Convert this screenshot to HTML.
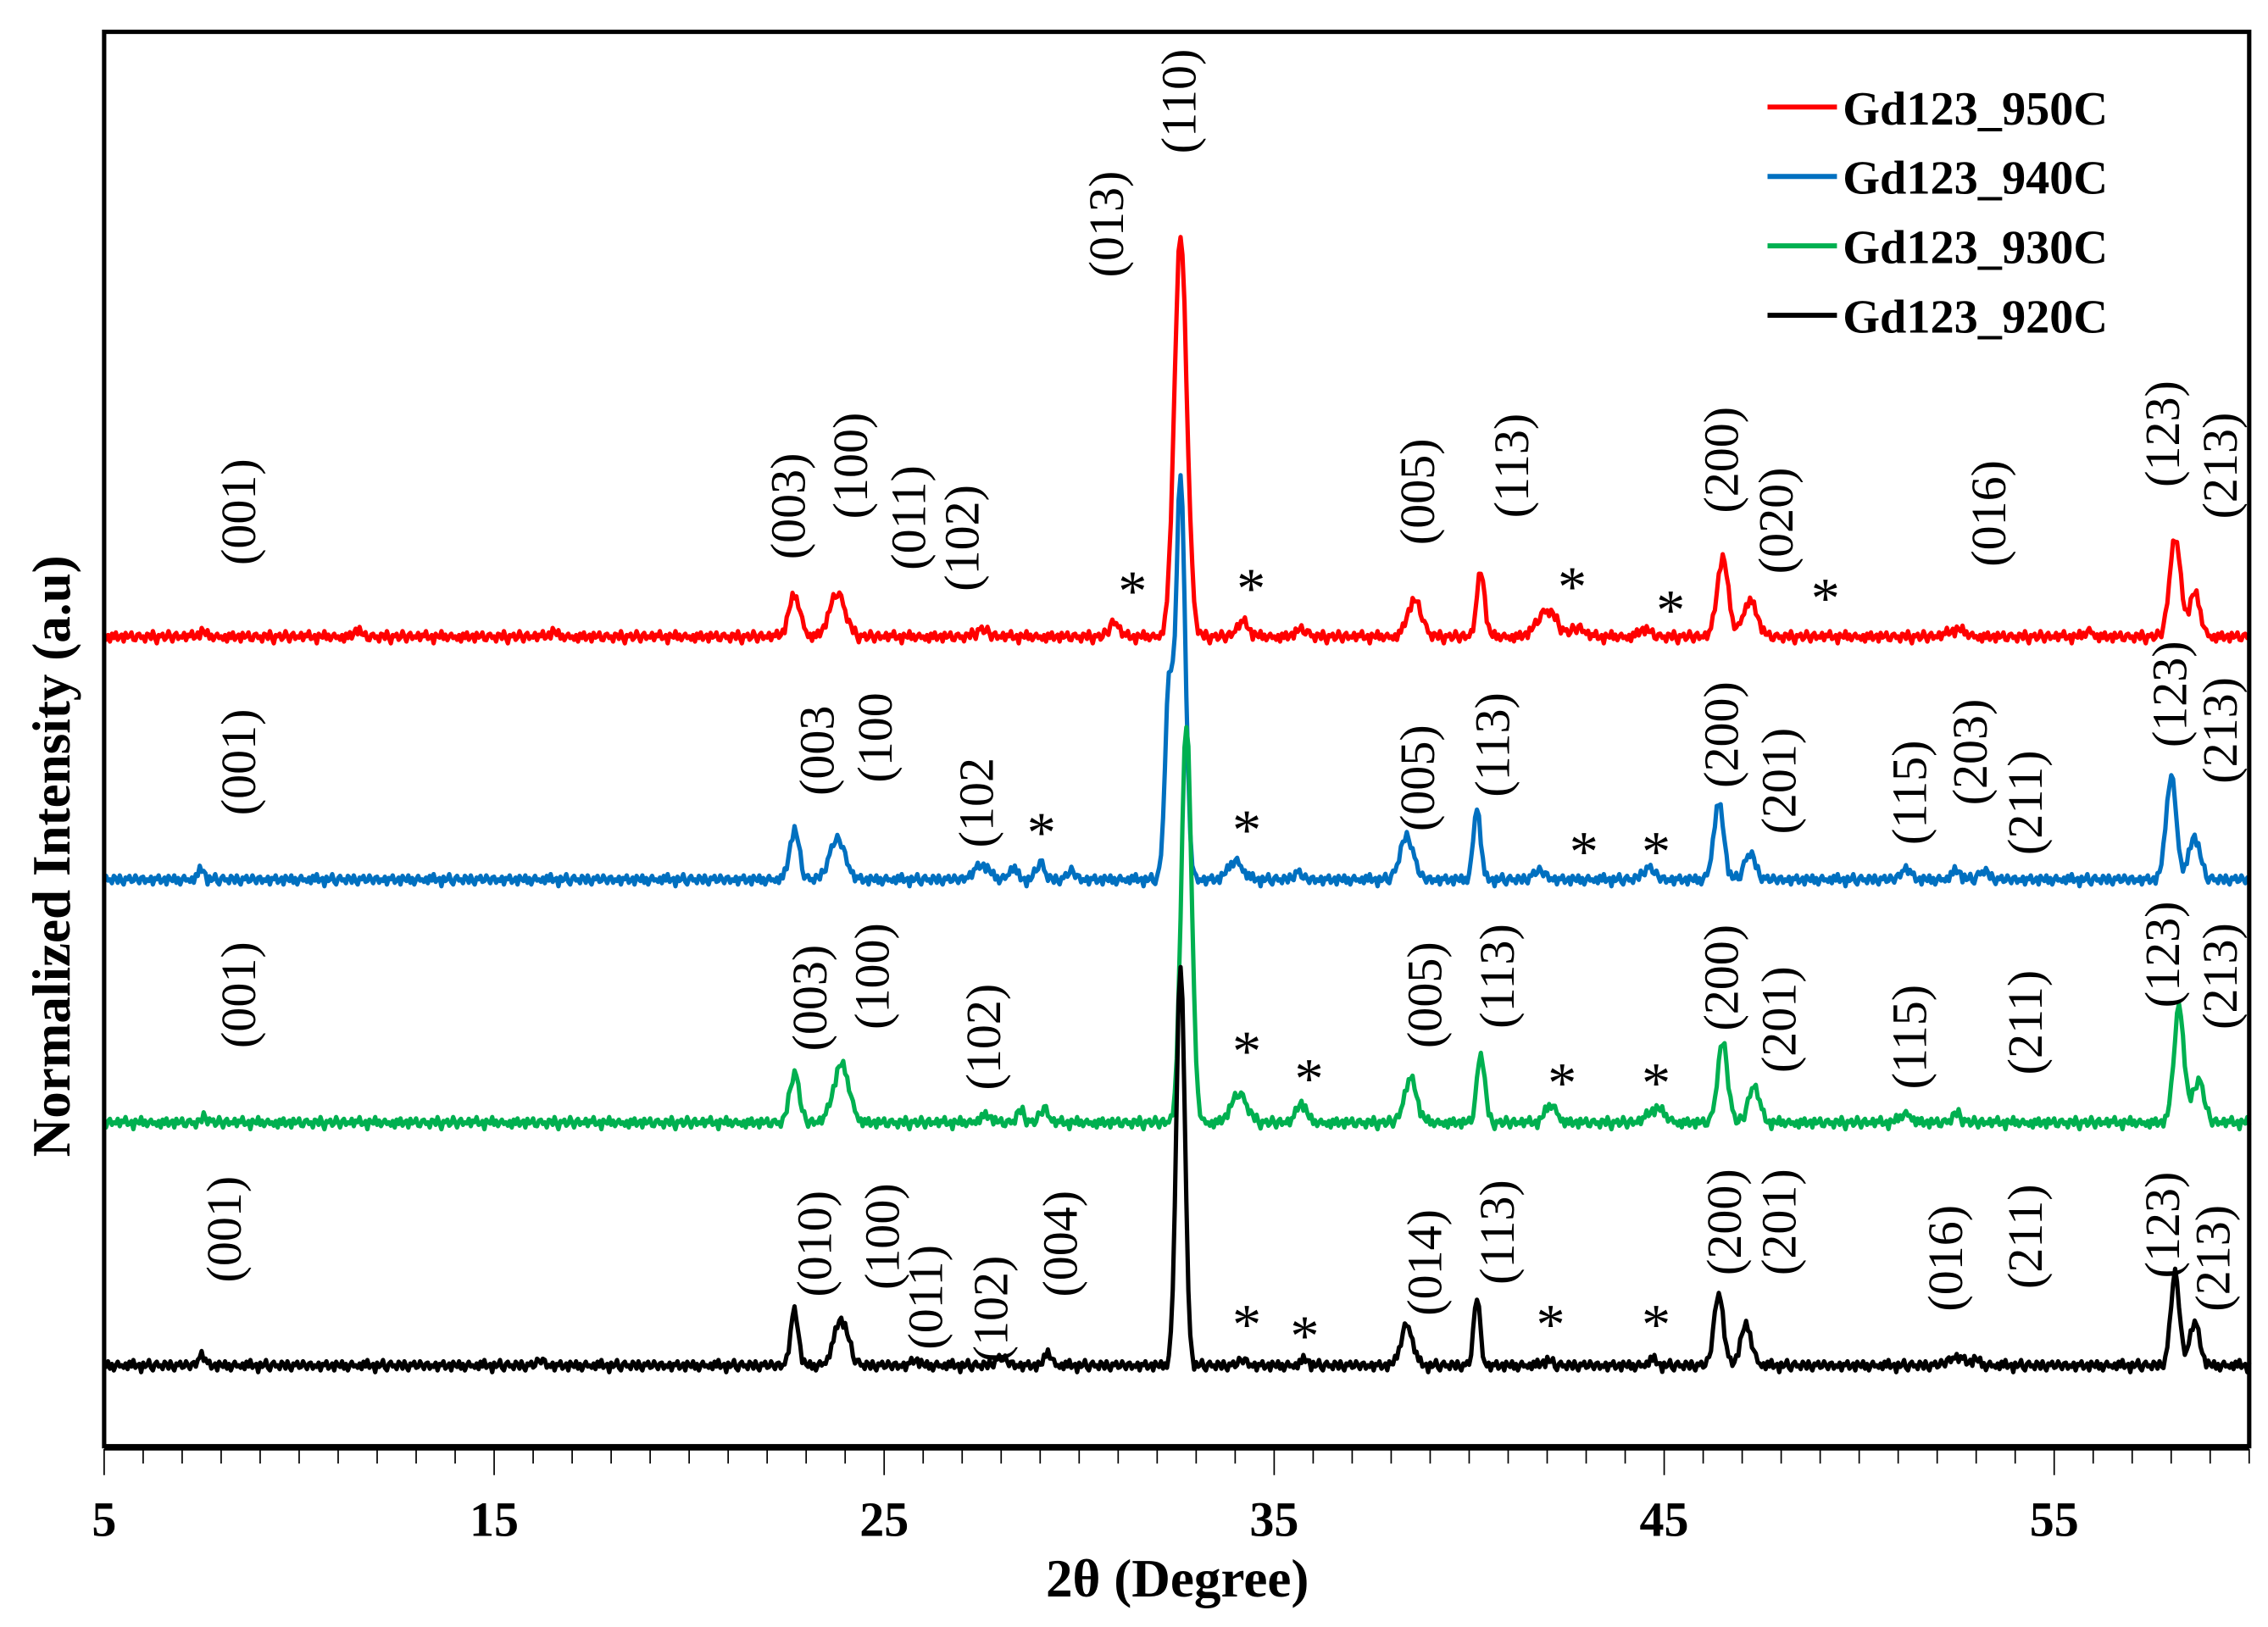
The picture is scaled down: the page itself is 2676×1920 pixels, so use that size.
<!DOCTYPE html>
<html><head><meta charset="utf-8"><style>
html,body{margin:0;padding:0;background:#fff}
svg{display:block}
text{font-family:"Liberation Serif",serif}
</style></head><body>
<svg id="chart" width="2676" height="1920" viewBox="0 0 1568 1125" xmlns="http://www.w3.org/2000/svg">
<rect x="0" y="0" width="1568" height="1125" fill="#fff"/>
<g id="plot"></g>
<g id="axes"></g>
<g id="labels"></g>
<g id="legend"></g>
</svg>
<script>
// ---- data ----
const xTicks = [5, 15, 25, 35, 45, 55];
const seriesNames = ["Gd123_950C", "Gd123_940C", "Gd123_930C", "Gd123_920C"];
const seriesColors = ["#ff0000", "#0070c0", "#00b050", "#000000"];
const seriesOffsets = [3, 2, 1, 0];
// peaks: [2theta, intensity, width]
const peaks950 = [[7.5,4,0.08],[11.5,5,0.08],[16.5,4,0.08],[22.7,28,0.15],[23.8,30,0.2],[27.5,5,0.15],[30.9,10,0.12],[32.6,277,0.16],[34.2,10,0.15],[35.7,5,0.15],[38.6,25,0.18],[40.3,45,0.1],[42.0,18,0.25],[42.8,6,0.15],[44.5,5,0.15],[46.5,55,0.14],[47.2,25,0.18],[52.5,5,0.2],[55.9,4,0.1],[58.1,68,0.14],[58.6,30,0.14]];
const peaks940 = [[7.5,7,0.08],[22.7,35,0.12],[23.8,28,0.2],[27.5,10,0.2],[28.3,8,0.1],[29.0,12,0.1],[29.8,6,0.1],[32.3,130,0.1],[32.6,278,0.12],[34.0,13,0.18],[35.6,5,0.1],[38.4,30,0.17],[40.2,50,0.09],[41.8,6,0.15],[44.6,8,0.15],[46.4,52,0.13],[47.2,18,0.14],[51.2,8,0.12],[52.5,6,0.12],[53.2,6,0.12],[58.0,72,0.13],[58.6,30,0.14]];
const peaks930 = [[7.6,4,0.08],[22.7,35,0.12],[23.9,40,0.2],[27.6,5,0.15],[28.5,8,0.1],[29.1,10,0.1],[32.75,278,0.13],[34.1,20,0.2],[35.7,14,0.12],[38.5,30,0.16],[40.3,48,0.1],[42.1,12,0.15],[44.8,10,0.2],[46.5,55,0.13],[47.3,25,0.14],[51.2,6,0.15],[52.5,6,0.12],[58.2,80,0.13],[58.7,30,0.14]];
const peaks920 = [[7.5,8,0.08],[16.2,4,0.08],[22.7,38,0.1],[23.9,32,0.18],[25.8,4,0.1],[28.0,5,0.15],[29.2,10,0.08],[32.6,278,0.11],[34.2,4,0.1],[35.8,4,0.1],[38.4,28,0.15],[40.2,48,0.08],[42.0,4,0.1],[44.7,4,0.1],[46.4,50,0.12],[47.1,28,0.14],[52.5,6,0.2],[53.0,4,0.1],[58.1,64,0.11],[58.6,30,0.13]];
const seriesPeaks = [peaks950, peaks940, peaks930, peaks920];
const noise = [0,2,-1,3,-2,1,-3,2,0,-1,4,-2,1,0,-3,2,3,-1,-2,1,0,3,-2,-1,2,-3,1,4,-1,0,-2,2,1,-3,0,3,-1,-2,2,0,1,-2,3,-1,0,-3,2,1,-1,4,-2,0,1,-3,2,-1,3,0,-2,1];
const labels950 = [["(001)",165,354],["(003)",545,350],["(100)",588,322],["(011)",628,358],["(102)",665,372],["(013)",765,155],["(110)",815,70],["(005)",980,340],["(113)",1045,322],["(200)",1190,318],["(020)",1228,360],["(016)",1375,355],["(123)",1495,300],["(213)",1535,322],["*",783,410],["*",865,408],["*",1087,407],["*",1155,423],["*",1262,415]];
const labels940 = [["(001)",165,527],["(003",565,519],["(100",605,510],["(102",675,555],["*",720,577],["*",862,575],["(005)",980,538],["(113)",1032,515],["*",1095,590],["*",1145,590],["(200)",1190,508],["(201)",1230,540],["(115)",1320,548],["(203)",1362,520],["(211)",1400,555],["(123)",1500,480],["(213)",1535,505]];
const labels930 = [["(001)",165,688],["(003)",560,690],["(100)",603,675],["(102)",680,717],["*",862,728],["*",905,747],["(005)",985,688],["(113)",1035,675],["*",1080,750],["*",1145,750],["(200)",1190,676],["(201)",1230,705],["(115)",1320,717],["(211)",1400,707],["(123)",1495,660],["(213)",1535,675]];
const labels920 = [["(001)",155,850],["(010)",563,860],["(100)",610,855],["(011)",640,897],["(102)",685,905],["(004)",733,860],["*",862,917],["*",902,925],["(014)",985,873],["(113)",1035,852],["*",1072,917],["*",1145,917],["(200)",1192,845],["(201)",1230,845],["(016)",1345,870],["(211)",1400,855],["(123)",1495,847],["(213)",1530,870]];
const allLabels = [labels950, labels940, labels930, labels920];

// ---- layout ----
const X0 = 72, X1 = 1555, Y0 = 22, Y1 = 1000;
const xMin = 5, xMax = 60;
const baseY = 944, offStep = 168;
const NS = "http://www.w3.org/2000/svg";
function xScale(d){ return X0 + (d - xMin) / (xMax - xMin) * (X1 - X0); }
function yScale(v, off){ return baseY - off * offStep - v; }
function mk(tag, attrs, parent){ const e = document.createElementNS(NS, tag); for (const k in attrs) e.setAttribute(k, attrs[k]); parent.appendChild(e); return e; }

const plot = document.getElementById('plot');
seriesPeaks.forEach((pk, si) => {
  let d = "";
  let i = 0;
  for (let t = xMin; t <= xMax + 1e-9; t += 0.05, i++) {
    let v = 0;
    pk.forEach(p => { v += p[1] * Math.exp(-0.5 * Math.pow((t - p[0]) / p[2], 2)); });
    const n = noise[(i + si * 17) % noise.length] * (i % 2 ? 1.2 : 0.9);
    d += (i ? "L" : "M") + xScale(t).toFixed(1) + "," + (yScale(v, seriesOffsets[si]) + n).toFixed(1);
  }
  const path = mk('path', {d: d, fill: 'none', stroke: seriesColors[si], 'stroke-width': 3, 'stroke-linejoin': 'round'}, plot);
  
  
});

// axes
const axes = document.getElementById('axes');
const frame = mk('rect', {x: X0, y: Y0, width: X1 - X0, height: Y1 - Y0, fill: 'none', stroke: '#000', 'stroke-width': 3}, axes);


const xl = mk('line', {x1: X0, y1: Y1 + 1, x2: X1, y2: Y1 + 1, stroke: '#000', 'stroke-width': 4}, axes);


for (let t = xMin; t <= xMax; t++) {
  const major = (t - 5) % 10 === 0;
  const tk = mk('line', {x1: xScale(t), y1: Y1 + 2, x2: xScale(t), y2: Y1 + (major ? 20 : 12), stroke: '#000', 'stroke-width': 1}, axes);
  
  
}
xTicks.forEach(t => {
  const tl = mk('text', {x: xScale(t), y: 1062, 'font-size': 34, 'font-weight': 'bold', 'text-anchor': 'middle'}, axes);
  tl.textContent = t;
  
  
});
const xt = mk('text', {x: 814, y: 1104, 'font-size': 37, 'font-weight': 'bold', 'text-anchor': 'middle'}, axes);
xt.textContent = "2θ (Degree)";


const yt = mk('text', {x: 0, y: 0, 'font-size': 37, 'font-weight': 'bold', 'text-anchor': 'middle', transform: 'translate(48,592) rotate(-90)'}, axes);
yt.textContent = "Normalized Intensity (a.u)";



// peak labels
const lg = document.getElementById('labels');
allLabels.forEach(arr => arr.forEach(l => {
  let t;
  if (l[0] === '*') {
    t = mk('text', {x: l[1], y: l[2] + 12, 'font-size': 40, 'text-anchor': 'middle'}, lg);
    t.textContent = '*';
    
  } else {
    t = mk('text', {x: 0, y: 0, 'font-size': 34, 'text-anchor': 'middle', 'dominant-baseline': 'central', transform: 'translate(' + l[1] + ',' + l[2] + ') rotate(-90)'}, lg);
    t.textContent = l[0];
    
  }
  
}));

// legend
const leg = document.getElementById('legend');
seriesNames.forEach((nm, i) => {
  const y = 74 + i * 48;
  const ln = mk('line', {x1: 1222, y1: y, x2: 1270, y2: y, stroke: seriesColors[i], 'stroke-width': 3.5}, leg);
  
  
  const tx = mk('text', {x: 1274, y: y + 12, 'font-size': 33, 'font-weight': 'bold'}, leg);
  tx.textContent = nm;
  
  
});
</script>
</body></html>
